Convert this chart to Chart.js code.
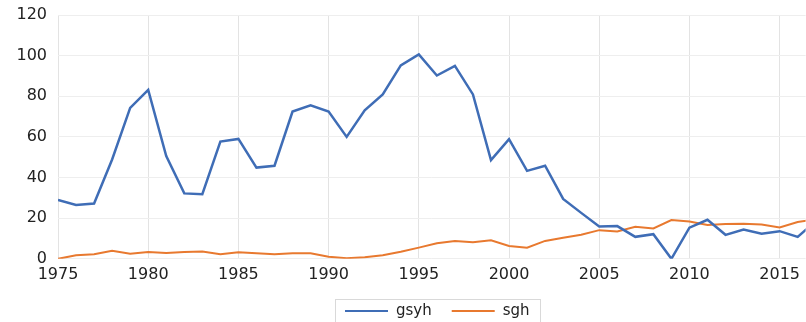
<!DOCTYPE html>
<html>
<head>
<meta charset="utf-8">
<script src="https://cdn.jsdelivr.net/npm/chart.js@4.4.1/dist/chart.umd.min.js"></script>
<style>
  html, body { margin: 0; padding: 0; background: #fff; }
  #wrap { width: 806px; height: 322px; }
</style>
</head>
<body>
<div id="wrap"><canvas id="myLineChart"></canvas></div>
<script>
const years = [1975, 1976, 1977, 1978, 1979, 1980, 1981, 1982, 1983, 1984,
    1985, 1986, 1987, 1988, 1989, 1990, 1991, 1992, 1993, 1994,
    1995, 1996, 1997, 1998, 1999, 2000, 2001, 2002, 2003, 2004,
    2005, 2006, 2007, 2008, 2009, 2010, 2011, 2012, 2013, 2014,
    2015, 2016, 2017];

const gsyh = [29, 26.5, 27.2, 48.9, 74.3, 83.1, 50.6, 32.2, 31.8, 57.7,
    59.0, 44.9, 45.8, 72.5, 75.6, 72.5, 60.0, 73.1, 80.9, 95.2,
    100.6, 90.2, 95.0, 80.9, 48.6, 58.9, 43.3, 45.8, 29.5, 22.6,
    15.9, 16.1, 10.8, 12.1, 0, 15.3, 19.2, 11.8, 14.4, 12.3,
    13.6, 10.8, 18.5];

const sgh = [0, 1.7, 2.2, 4.0, 2.5, 3.3, 2.8, 3.3, 3.6, 2.3,
    3.2, 2.7, 2.3, 2.7, 2.7, 1.0, 0.3, 0.8, 1.8, 3.5,
    5.5, 7.6, 8.8, 8.1, 9.1, 6.3, 5.5, 8.8, 10.4, 11.8,
    14.1, 13.4, 15.8, 14.9, 19.1, 18.4, 16.6, 17.1, 17.2, 16.9,
    15.4, 18.1, 19.5];

const toPoints = vals => years.map((yr, i) => ({ x: yr, y: vals[i] }));

// legend drawn by hand: line sample + label per series, framed, centred under the plot
const frameLegend = {
    id: 'frameLegend',
    afterDraw(chart) {
        const ctx = chart.ctx;
        const ca = chart.chartArea;
        const font = '15px "DejaVu Sans"';
        const lineW = 43, gapText = 8, gapItem = 20, pad = 10;
        ctx.save();
        ctx.font = font;
        const items = chart.data.datasets.map(ds => ({
            text: ds.label, color: ds.borderColor, w: ctx.measureText(ds.label).width
        }));
        let total = 0;
        items.forEach((it, i) => { total += lineW + gapText + it.w + (i ? gapItem : 0); });
        const cx = (ca.left + ca.right) / 2 + 5;
        const top = 299;
        const y = 311;
        let x = Math.round(cx - total / 2);
        ctx.strokeStyle = '#d9d9d9';
        ctx.lineWidth = 1;
        ctx.strokeRect(x - pad + 0.5, top + 0.5, Math.round(total + pad * 2), 40);
        ctx.textBaseline = 'middle';
        ctx.fillStyle = '#222';
        items.forEach((it, i) => {
            if (i) x += gapItem;
            ctx.strokeStyle = it.color;
            ctx.lineWidth = 2;
            ctx.beginPath();
            ctx.moveTo(x, y);
            ctx.lineTo(x + lineW, y);
            ctx.stroke();
            x += lineW + gapText;
            ctx.fillText(it.text, x, y);
            x += it.w;
        });
        ctx.restore();
    }
};

const data = {
    datasets: [{
        label: 'gsyh',
        data: toPoints(gsyh),
        borderColor: '#3f6db6',
        backgroundColor: '#3f6db6',
        borderWidth: 2.5,
        pointRadius: 0,
        tension: 0
    }, {
        label: 'sgh',
        data: toPoints(sgh),
        borderColor: '#e8792f',
        backgroundColor: '#e8792f',
        borderWidth: 2,
        pointRadius: 0,
        tension: 0
    }]
};

const config = {
    type: 'line',
    data: data,
    plugins: [frameLegend],
    options: {
        responsive: true,
        maintainAspectRatio: false,
        animation: false,
        layout: {
            padding: { top: 0, right: 0, left: 0, bottom: 32 }
        },
        scales: {
            x: {
                type: 'linear',
                min: 1975,
                max: 2016.44,
                border: { display: false },
                grid: { color: '#e3e3e3', lineWidth: 1, drawTicks: false },
                ticks: {
                    stepSize: 5,
                    includeBounds: false,
                    maxRotation: 0,
                    padding: 6,
                    color: '#222',
                    font: { family: 'DejaVu Sans', size: 16 },
                    callback: v => String(v)
                }
            },
            y: {
                min: 0,
                max: 120,
                border: { display: false },
                grid: { color: '#eeeeee', lineWidth: 1, drawTicks: false },
                afterFit: scale => { scale.width = 58; },
                ticks: {
                    stepSize: 20,
                    padding: 11,
                    color: '#222',
                    font: { family: 'DejaVu Sans', size: 16, lineHeight: 0.5 }
                }
            }
        },
        plugins: {
            legend: { display: false },
            tooltip: { enabled: false }
        }
    }
};

window.onload = function() {
    const ctx = document.getElementById('myLineChart').getContext('2d');
    new Chart(ctx, config);
};
</script>
</body>
</html>
